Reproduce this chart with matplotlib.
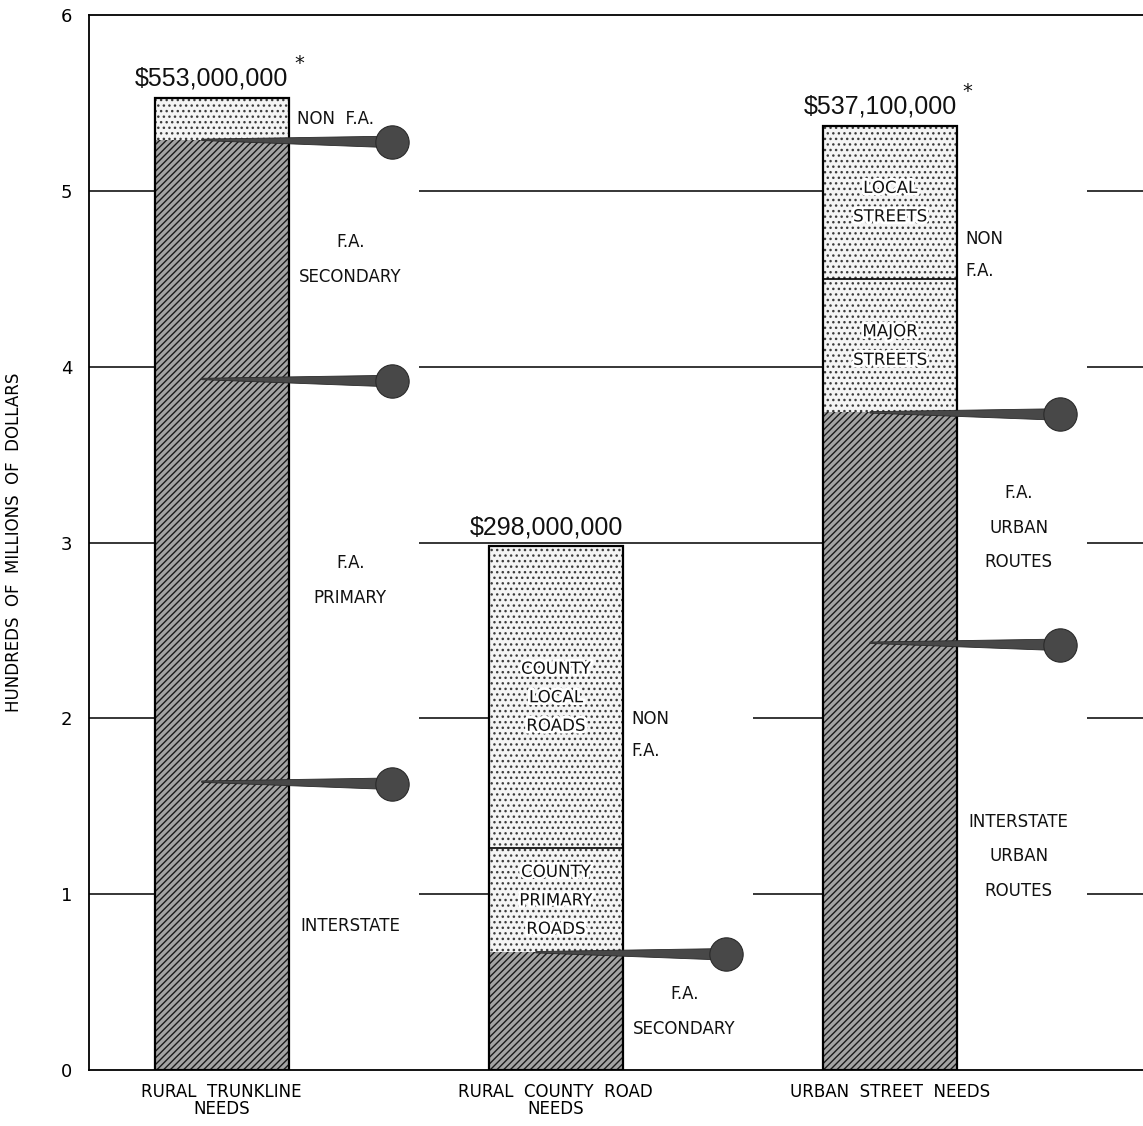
import numpy as np
import matplotlib
matplotlib.use("Agg")
import matplotlib.pyplot as plt
from matplotlib.patches import Polygon
import matplotlib.patheffects as pe

plt.rcParams['font.family'] = ['DejaVu Sans']
plt.rcParams['hatch.linewidth'] = 1.0

# values in hundreds of millions of dollars, bottom segment first
categories = ["RURAL  TRUNKLINE\nNEEDS", "RURAL  COUNTY  ROAD\nNEEDS", "URBAN  STREET  NEEDS"]

trunk_segments = ["INTERSTATE", "F.A.\nPRIMARY", "F.A.\nSECONDARY", "NON  F.A."]
trunk_values = [1.64, 2.29, 1.36, 0.24]
trunk_federal = [True, True, True, False]

county_segments = ["F.A.\nSECONDARY", "COUNTY\nPRIMARY\nROADS", "COUNTY\nLOCAL\nROADS"]
county_values = [0.67, 0.59, 1.72]
county_federal = [True, False, False]

urban_segments = ["INTERSTATE\nURBAN\nROUTES", "F.A.\nURBAN\nROUTES", "MAJOR\nSTREETS", "LOCAL\nSTREETS"]
urban_values = [2.43, 1.31, 0.76, 0.871]
urban_federal = [True, True, False, False]

total_labels = ["\\$553,000,000", "\\$298,000,000", "\\$537,100,000"]
total_starred = [True, False, True]

yticks = [0, 1, 2, 3, 4, 5, 6]

bars = [(trunk_segments, trunk_values, trunk_federal),
        (county_segments, county_values, county_federal),
        (urban_segments, urban_values, urban_federal)]

fig = plt.figure(figsize=(11.43, 11.26), dpi=100)
ax = fig.add_axes([0.0779, 0.0497, 0.9221, 0.937])

centers = np.arange(len(categories))
w = 0.4
gap = 0.39
ax.set_xlim(-0.397, 2.757)
ax.set_ylim(0, 6)

totals = [sum(v) for _, v, _ in bars]

# broken grid lines, cut in the label column beside each bar
xmin, xmax = ax.get_xlim()
for g in yticks[1:-1]:
    starts, ends = [xmin], []
    for c, t in zip(centers, totals):
        if t > g:
            ends.append(c + w / 2)
            starts.append(c + w / 2 + gap)
    ends.append(xmax)
    ax.hlines([g] * len(starts), starts, ends, color='black', lw=1.1, zorder=1)

dark = dict(facecolor='#a4a4a4', edgecolor='#1a1a1a', hatch='/////', linewidth=0)
light = dict(facecolor='#f4f4f4', edgecolor='#3c3c3c', hatch='...', linewidth=0)
txt = dict(fontsize=12, color='#111111')

for c, (names, vals, fed) in zip(centers, bars):
    bottoms = np.concatenate([[0], np.cumsum(vals)[:-1]])
    for name, v, b, f in zip(names, vals, bottoms, fed):
        ax.bar(c, v, w, bottom=b, zorder=2, **(dark if f else light))
    total = sum(vals)
    ax.bar(c, total, w, fill=False, edgecolor='black', linewidth=1.6, zorder=4)

    non_idx = [i for i, f in enumerate(fed) if not f]
    for i, (name, v, b, f) in enumerate(zip(names, vals, bottoms, fed)):
        mid = b + v / 2
        if f:
            ax.text(c + 0.385, mid, name, ha='center', va='center',
                    linespacing=2.2, **txt)
            # pin marking the top of each federal-aid segment
            top = b + v
            x0, x1 = c - 0.06, c + 0.51
            pin = Polygon([(x0, top + 0.004), (x0, top - 0.004),
                           (x1, top - 0.012 - 0.033), (x1, top - 0.012 + 0.033)],
                          closed=True, facecolor='#484848', edgecolor='#2a2a2a',
                          lw=0.6, zorder=5)
            ax.add_patch(pin)
            ax.plot(x1, top - 0.012, 'o', ms=24, color='#484848',
                    mec='#2a2a2a', mew=0.8, zorder=6)
        elif len(non_idx) > 1:
            ax.text(c, mid, name, ha='center', va='center', linespacing=1.75,
                    zorder=7, path_effects=[pe.withStroke(linewidth=4, foreground='white')],
                    **txt)
            if b + v < total and i + 1 in non_idx:
                ax.hlines(b + v, c - w / 2, c + w / 2, color='black', lw=1.2, zorder=4)
        else:
            ax.text(c + w / 2 + 0.025, mid, name, ha='left', va='center', **txt)
    if len(non_idx) > 1:
        lo = bottoms[non_idx[0]]
        ax.text(c + w / 2 + 0.025, (lo + total) / 2 + 0.08, "NON\nF.A.",
                ha='left', va='center', linespacing=2.0, **txt)

for c, t, lab, star in zip(centers, totals, total_labels, total_starred):
    ax.annotate(lab, (c + w / 2, t), xytext=(0, 5), textcoords='offset points',
                ha='right', va='bottom', fontsize=18, color='#111111',
                family='Liberation Sans')
    if star:
        ax.annotate("*", (c + w / 2, t), xytext=(4, 18), textcoords='offset points',
                    ha='left', va='bottom', fontsize=14, color='#111111')

ax.set_yticks(yticks)
ax.set_yticklabels([str(v) for v in yticks], fontsize=13)
ax.set_xticks(centers)
ax.set_xticklabels(categories, fontsize=12, linespacing=0.95)
ax.tick_params(length=0)
ax.tick_params(axis='y', pad=12)
ax.tick_params(axis='x', pad=9)

ax.set_ylabel("HUNDREDS  OF  MILLIONS  OF  DOLLARS", fontsize=12)
ax.yaxis.set_label_coords(-0.063, 0.5)

ax.spines['right'].set_visible(False)
for s in ['left', 'top', 'bottom']:
    ax.spines[s].set_linewidth(1.3)

fig.savefig("out.png", dpi=100)
